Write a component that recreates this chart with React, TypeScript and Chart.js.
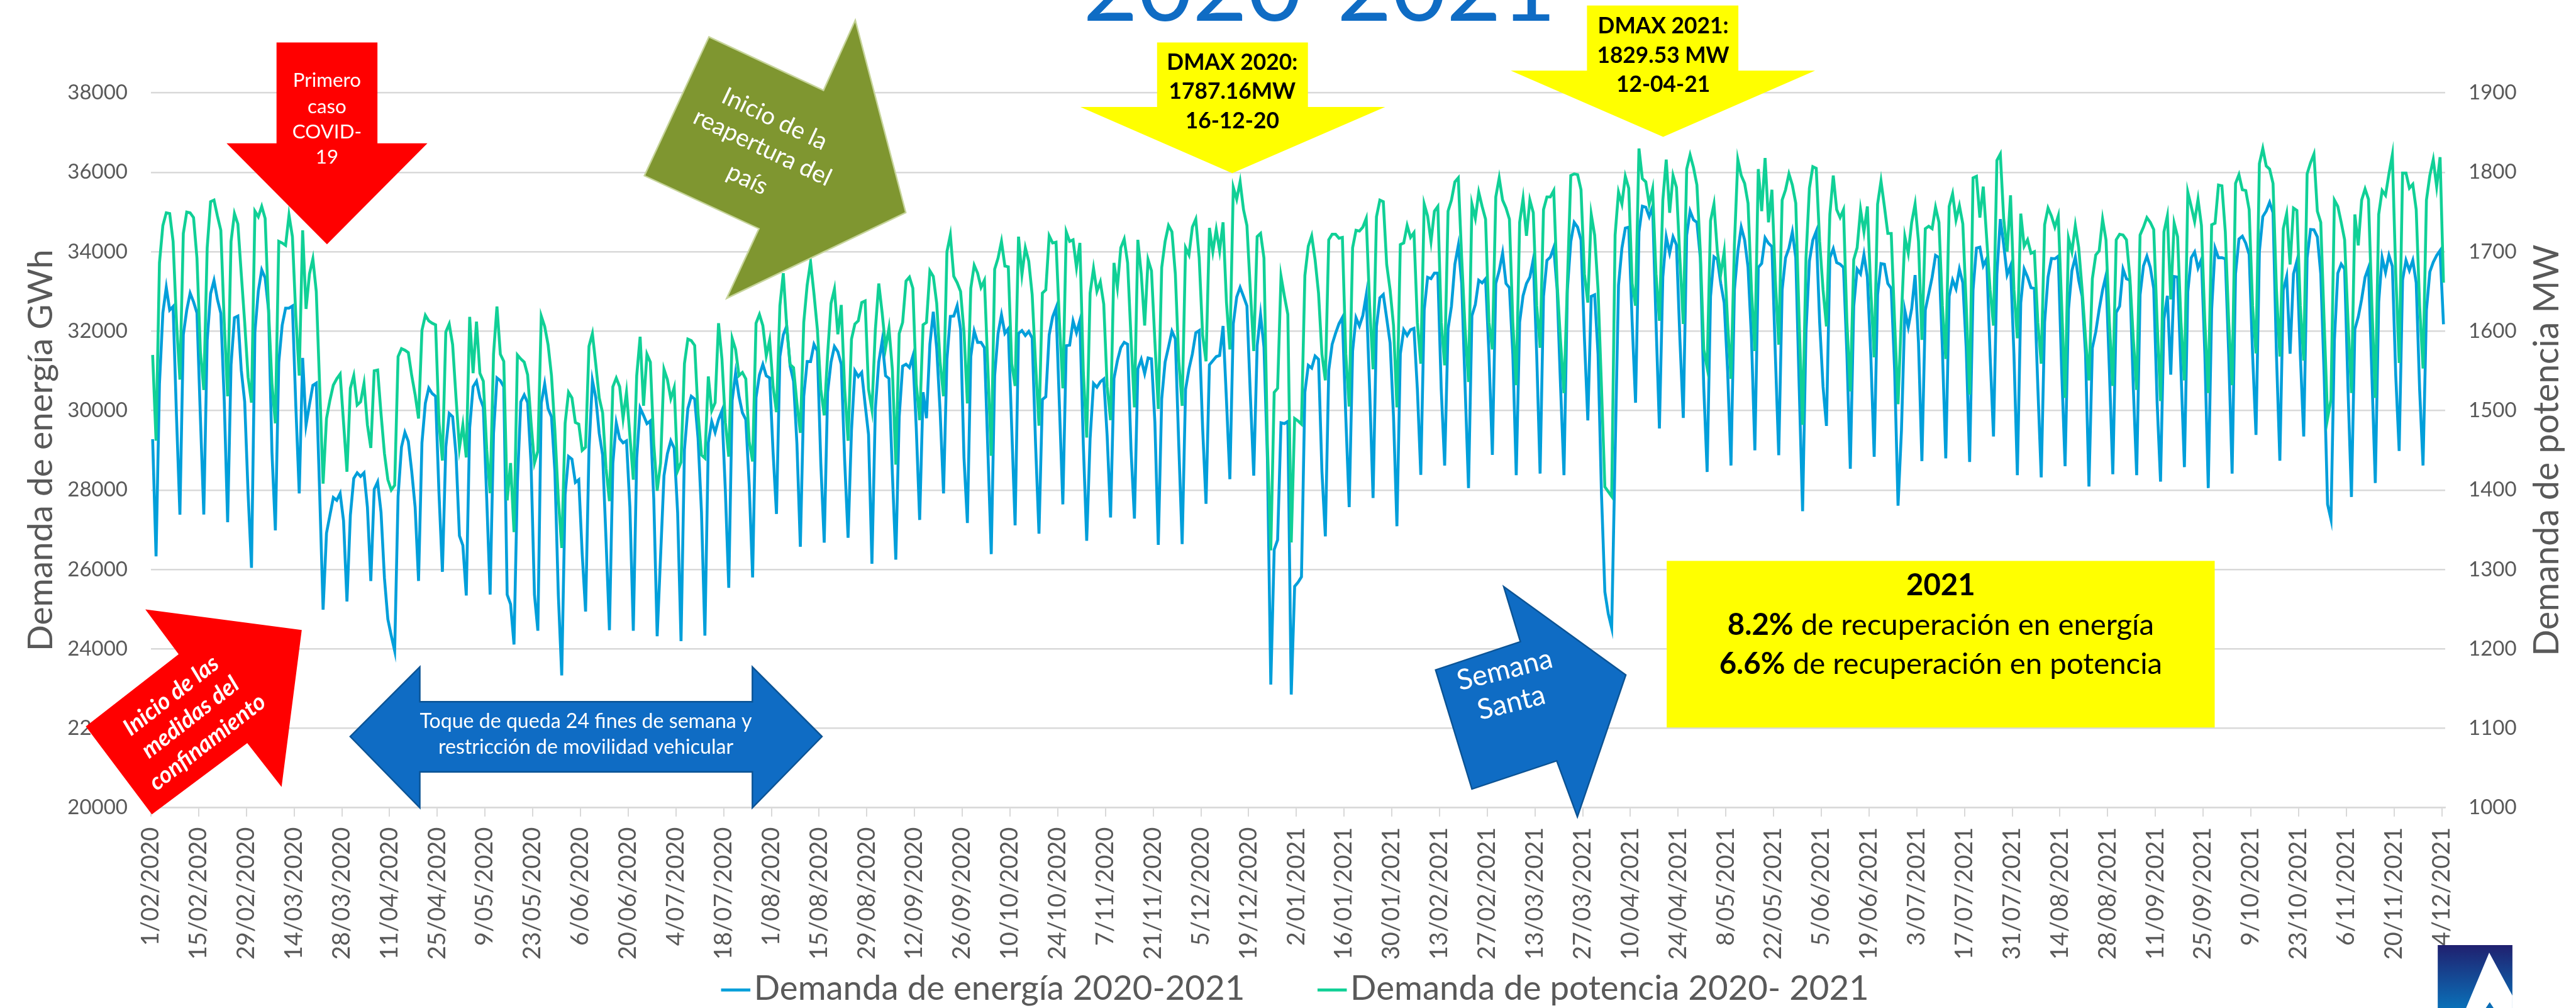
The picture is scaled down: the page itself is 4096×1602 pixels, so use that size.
import React, { useEffect, useRef } from "react";
import { Chart, registerables } from "chart.js";

Chart.register(...registerables);

const tickLabels = [
  "1/02/2020","15/02/2020","29/02/2020","14/03/2020","28/03/2020","11/04/2020","25/04/2020","9/05/2020","23/05/2020","6/06/2020",
  "20/06/2020","4/07/2020","18/07/2020","1/08/2020","15/08/2020","29/08/2020","12/09/2020","26/09/2020","10/10/2020","24/10/2020",
  "7/11/2020","21/11/2020","5/12/2020","19/12/2020","2/01/2021","16/01/2021","30/01/2021","13/02/2021","27/02/2021","13/03/2021",
  "27/03/2021","10/04/2021","24/04/2021","8/05/2021","22/05/2021","5/06/2021","19/06/2021","3/07/2021","17/07/2021","31/07/2021",
  "14/08/2021","28/08/2021","11/09/2021","25/09/2021","9/10/2021","23/10/2021","6/11/2021","20/11/2021","4/12/2021",
];

const energia = [
  29279,26330,30670,32460,33100,32530,32620,
  29850,27378,31910,32530,32957,32737,32460,
  29850,27385,31770,32944,33275,32800,32448,
  30257,27190,31150,32338,32380,31015,30222,
  27915,26040,31980,33012,33543,33343,32530,
  28950,26985,31220,32150,32580,32580,32634,
  30120,27915,31325,29637,30150,30635,30690,
  27915,24987,26916,27364,27811,27742,27915,
  27226,25193,27364,28294,28432,28342,28432,
  27570,25710,28018,28204,27433,25779,24746,
  24332,23950,27846,29086,29451,29224,28466,
  27570,25710,29189,30188,30567,30430,30360,
  27915,25940,29086,29926,29844,28880,26847,
  26606,25345,29568,30600,30740,30326,30085,
  27777,25366,29430,30822,30753,30600,25366,
  25125,24110,28190,30222,30395,30200,28673,
  25366,24457,30188,30670,30050,29844,28466,
  25366,23330,27880,28845,28776,28190,28259,
  26400,24940,29017,30760,30326,29430,28880,
  26744,24470,28673,29692,29293,29189,29238,
  27570,24457,28810,30064,29878,29672,29740,
  27777,24319,26330,28363,28914,29238,29052,
  27433,24195,29017,30050,30360,30292,29293,
  27433,24332,29189,29727,29451,29775,29995,
  27983,25538,30257,30946,30360,29947,29775,
  28121,25800,30326,30898,31166,30877,30822,
  28950,27398,31359,31910,32130,31118,30739,
  29155,26571,30360,31235,31235,31669,31497,
  28673,26675,30464,31221,31614,31483,31166,
  28741,26799,29500,31001,30856,30960,30154,
  29396,26144,30050,31221,31759,30877,30808,
  28397,26247,29844,31118,31166,31084,31373,
  29568,27247,30464,29809,31669,32489,31566,
  29982,27915,31290,32372,32379,32641,32048,
  28810,27171,31359,32000,31718,31718,31580,
  29017,26386,30877,31945,32413,31945,32062,
  29568,27109,31945,32014,31890,31993,31828,
  29155,26902,30278,30347,31910,32358,32586,
  30119,27639,31635,31649,32255,31959,32269,
  29155,26723,29293,30684,30588,30725,30794,
  29361,27309,30808,31256,31587,31718,31669,
  29017,27281,31049,31290,30932,31325,31304,
  29706,26620,30292,31221,31600,32000,31807,
  29155,26640,30533,31049,31428,31959,32014,
  29568,27653,31153,31256,31359,31387,32131,
  30257,28273,32186,32861,33102,32875,32634,
  30395,28363,31635,32420,31600,28810,23100,
  26500,26744,29692,29672,29727,22850,25573,
  25676,25813,30464,31139,31070,31373,31290,
  28466,26833,31015,31669,31945,32186,32344,
  29844,27570,31497,32337,32131,32393,32909,
  30533,27798,32117,32840,32923,32324,31704,
  29844,27088,31428,32034,31890,32034,32069,
  30533,28383,32530,33357,33323,33460,33460,
  30533,28617,32060,32630,33685,34156,33199,
  30604,28050,32388,32672,33280,33215,33320,
  31415,28884,33199,33523,33969,33199,33094,
  31415,28373,32226,32891,33199,33361,33807,
  31415,28414,32875,33783,33864,34107,33037,
  30604,28373,33037,34253,34740,34618,34294,
  31820,29752,32875,32915,31415,27915,25435,
  24884,24525,28900,33158,34090,34594,34618,
  32226,30198,34497,35145,35121,34886,35145,
  32226,29549,33361,34375,33969,34375,34172,
  31820,29817,34415,35024,34805,34740,33847,
  30604,28455,32875,33872,33807,33199,32713,
  31009,28617,33037,34010,34618,34294,33604,
  31820,28998,33604,33702,34350,34213,34132,
  31415,28876,33037,33848,34091,34497,33848,
  30604,27467,31983,33767,34294,34513,32226,
  30604,29614,33848,34075,33726,33686,33604,
  31415,28536,32631,33564,33442,33929,33361,
  31415,28836,32915,33702,33686,33199,33077,
  31009,27605,29500,32517,32103,32565,33412,
  31700,28728,32530,32944,33357,33908,33853,
  31566,28797,32875,33288,33068,33564,33219,
  31566,28707,33037,34091,34115,33645,33823,
  31415,29347,33442,34821,34172,33418,33645,
  31415,28373,32712,33564,33361,33094,33077,
  30604,28317,32226,33361,33831,33823,33888,
  31009,28601,32550,33523,33864,33280,32875,
  31415,28090,31577,31983,32550,33037,33402,
  31009,28398,32469,32631,33564,33320,33280,
  30604,28373,32915,33645,33888,33604,33077,
  30198,28211,32307,32891,30904,33377,33361,
  31009,28576,32996,33848,33994,33588,33807,
  31415,28049,32550,34091,33848,33848,33823,
  31415,28414,33442,34318,34391,34213,33929,
  31415,29387,34010,34886,35024,35243,34983,
  31415,28738,33037,33377,31431,33442,33767,
  31415,29347,33848,34561,34553,34375,33442,
  30877,27640,27260,31773,33460,33688,33564,
  30533,27825,32048,32358,32806,33357,33598,
  30877,28176,32737,33853,33481,33908,33633,
  30877,28983,33288,33784,33530,33784,33219,
  30533,28617,32530,33495,33736,33908,34030,
  32172,
];

const potencia = [
  1570,1462,1686,1733,1749,1748,1713,
  1611,1539,1723,1750,1749,1743,1692,
  1575,1526,1705,1763,1765,1745,1727,
  1611,1518,1713,1748,1735,1672,1611,
  1542,1510,1751,1744,1757,1742,1627,
  1534,1484,1713,1711,1708,1746,1719,
  1619,1544,1727,1628,1672,1691,1650,
  1530,1408,1490,1513,1532,1540,1546,
  1485,1423,1528,1544,1507,1511,1534,
  1482,1453,1550,1551,1496,1446,1413,
  1400,1406,1568,1578,1576,1573,1544,
  1520,1490,1601,1620,1613,1610,1608,
  1485,1437,1599,1609,1583,1516,1453,
  1482,1441,1618,1547,1612,1547,1537,
  1451,1396,1571,1631,1571,1562,1387,
  1434,1347,1570,1565,1561,1545,1485,
  1434,1449,1619,1606,1583,1544,1475,
  1389,1327,1484,1523,1516,1485,1483,
  1450,1454,1581,1597,1558,1516,1497,
  1427,1386,1530,1541,1530,1490,1523,
  1468,1413,1544,1593,1506,1571,1561,
  1458,1399,1434,1552,1539,1515,1529,
  1424,1435,1559,1590,1588,1582,1496,
  1444,1440,1543,1500,1510,1610,1565,
  1485,1442,1591,1577,1544,1548,1540,
  1461,1436,1610,1621,1607,1569,1589,
  1530,1498,1632,1673,1606,1558,1554,
  1509,1472,1611,1658,1687,1647,1602,
  1527,1494,1571,1635,1653,1596,1633,
  1527,1462,1590,1609,1613,1636,1638,
  1527,1501,1602,1660,1623,1579,1604,
  1551,1432,1597,1611,1663,1668,1654,
  1534,1488,1608,1611,1676,1669,1635,
  1561,1518,1700,1721,1669,1661,1650,
  1599,1509,1654,1683,1673,1655,1664,
  1554,1443,1678,1692,1713,1682,1681,
  1559,1531,1719,1671,1705,1688,1646,
  1559,1481,1648,1652,1720,1711,1712,
  1611,1528,1725,1713,1715,1680,1711,
  1550,1466,1648,1679,1650,1662,1634,
  1530,1488,1686,1655,1705,1716,1686,
  1591,1504,1715,1672,1607,1690,1676,
  1587,1502,1680,1713,1733,1725,1672,
  1563,1506,1705,1696,1731,1741,1692,
  1595,1562,1730,1700,1728,1701,1737,
  1636,1577,1781,1766,1788,1753,1733,
  1652,1575,1719,1723,1692,1458,1324,
  1523,1528,1669,1644,1621,1334,1490,
  1487,1483,1670,1707,1720,1690,1648,
  1571,1538,1715,1722,1722,1717,1718,
  1571,1505,1705,1727,1726,1731,1742,
  1632,1552,1744,1765,1763,1684,1652,
  1607,1504,1709,1711,1733,1718,1724,
  1611,1559,1760,1745,1713,1751,1757,
  1611,1557,1751,1765,1788,1793,1692,
  1603,1536,1760,1742,1775,1757,1741,
  1611,1577,1769,1793,1765,1755,1741,
  1611,1532,1737,1767,1720,1765,1749,
  1632,1579,1753,1769,1769,1777,1660,
  1587,1522,1660,1796,1798,1797,1778,
  1672,1636,1747,1721,1652,1530,1404,
  1398,1392,1721,1775,1760,1795,1780,
  1660,1632,1830,1792,1788,1760,1779,
  1672,1613,1765,1816,1749,1796,1781,
  1692,1609,1804,1822,1806,1784,1700,
  1577,1554,1739,1760,1700,1672,1700,
  1611,1540,1709,1816,1796,1786,1761,
  1652,1575,1804,1751,1818,1737,1778,
  1665,1583,1765,1778,1798,1784,1761,
  1611,1482,1692,1780,1807,1805,1713,
  1652,1606,1747,1796,1753,1743,1753,
  1611,1524,1690,1705,1753,1725,1757,
  1652,1567,1760,1789,1757,1723,1723,
  1611,1508,1620,1719,1698,1737,1760,
  1713,1589,1729,1732,1729,1756,1737,
  1632,1565,1757,1773,1740,1758,1735,
  1632,1520,1793,1795,1743,1782,1717,
  1652,1607,1815,1823,1741,1700,1771,
  1652,1591,1748,1707,1715,1698,1700,
  1611,1559,1734,1755,1745,1731,1745,
  1632,1516,1717,1700,1733,1705,1652,
  1591,1538,1666,1696,1701,1741,1715,
  1611,1531,1715,1722,1721,1715,1668,
  1591,1526,1721,1731,1743,1737,1728,
  1611,1512,1725,1745,1640,1736,1719,
  1611,1538,1775,1757,1738,1766,1733,
  1611,1522,1734,1736,1784,1783,1725,
  1611,1532,1786,1797,1778,1777,1753,
  1632,1572,1811,1830,1808,1804,1786,
  1652,1568,1729,1748,1684,1755,1752,
  1632,1563,1798,1812,1823,1751,1737,
  1611,1490,1514,1765,1757,1737,1715,
  1611,1522,1747,1708,1765,1779,1766,
  1632,1516,1747,1777,1771,1798,1822,
  1672,1560,1799,1799,1780,1785,1753,
  1632,1553,1765,1796,1816,1782,1819,
  1661,
];

const W = 4096;
const H = 1602;
const S = W / 5105;
const FONT = "Lato, Carlito, Calibri, sans-serif";
const GREY = "#595959";
const GRID = "#D9D9D9";
const BLUE = "#009FDA";
const GREEN = "#10D096";
const ROYAL = "#0F6CC4";

type Ctx = CanvasRenderingContext2D;

function poly(ctx: Ctx, pts: number[][], fill: string | CanvasGradient, stroke?: string, lw = 3) {
  ctx.beginPath();
  pts.forEach((p, i) => (i ? ctx.lineTo(p[0], p[1]) : ctx.moveTo(p[0], p[1])));
  ctx.closePath();
  ctx.fillStyle = fill;
  ctx.fill();
  if (stroke) {
    ctx.strokeStyle = stroke;
    ctx.lineWidth = lw;
    ctx.stroke();
  }
}

function text(ctx: Ctx, str: string, x: number, y: number, font: string, color: string, angle = 0) {
  ctx.save();
  ctx.translate(x, y);
  ctx.rotate((angle * Math.PI) / 180);
  ctx.font = font;
  ctx.fillStyle = color;
  ctx.textAlign = "center";
  ctx.textBaseline = "middle";
  ctx.fillText(str, 0, 0);
  ctx.restore();
}

function boldLead(ctx: Ctx, lead: string, rest: string, cx: number, y: number, size: number) {
  ctx.textBaseline = "middle";
  ctx.textAlign = "left";
  ctx.fillStyle = "#000";
  ctx.font = `bold ${size}px ${FONT}`;
  const a = ctx.measureText(lead).width;
  ctx.font = `${size}px ${FONT}`;
  const b = ctx.measureText(rest).width;
  const x0 = cx - (a + b) / 2;
  ctx.font = `bold ${size}px ${FONT}`;
  ctx.fillText(lead, x0, y);
  ctx.font = `${size}px ${FONT}`;
  ctx.fillText(rest, x0 + a, y);
}

const overlay = {
  id: "overlay",
  afterDraw(chart: any) {
    const ctx: Ctx = chart.ctx;
    ctx.save();
    ctx.scale(S, S);

    // Title, cropped by the top of the picture as in the reference
    ctx.font = `187px ${FONT}`;
    ctx.fillStyle = ROYAL;
    ctx.textAlign = "center";
    ctx.textBaseline = "alphabetic";
    ctx.fillText("2020-2021", 2615, 41);

    // Right axis title
    text(ctx, "Demanda de potencia MW", 5048, 892, `69px ${FONT}`, GREY, -90);

    // Legend
    const items = chart.data.datasets;
    const legendX = [1429, 2611];
    items.forEach((d: any, i: number) => {
      ctx.strokeStyle = d.borderColor;
      ctx.lineWidth = 6;
      ctx.beginPath();
      ctx.moveTo(legendX[i], 1961);
      ctx.lineTo(legendX[i] + 58, 1961);
      ctx.stroke();
      ctx.font = `68px ${FONT}`;
      ctx.fillStyle = GREY;
      ctx.textAlign = "left";
      ctx.textBaseline = "middle";
      ctx.fillText(d.label, legendX[i] + 65, 1958);
    });

    // Red arrow: first case
    poly(ctx, [[548,84],[748,84],[748,284],[847,284],[648,484],[449,284],[548,284]], "#FF0000");
    const r = `39px ${FONT}`;
    text(ctx, "Primero", 648, 159, r, "#fff");
    text(ctx, "caso", 648, 212, r, "#fff");
    text(ctx, "COVID-", 648, 262, r, "#fff");
    text(ctx, "19", 648, 312, r, "#fff");

    // Red diagonal arrow: confinement
    poly(ctx, [[288,1207],[598,1248],[558,1559],[490,1472],[301,1613],[170,1439],[354,1296]], "#FF0000");
    const ri = `italic bold 46px ${FONT}`;
    text(ctx, "Inicio de las", 339, 1378, ri, "#fff", -38);
    text(ctx, "medidas del", 377, 1421, ri, "#fff", -38);
    text(ctx, "confinamiento", 411, 1470, ri, "#fff", -38);

    // Double arrow
    poly(ctx, [[694,1459],[832,1321],[832,1390],[1491,1390],[1491,1321],[1629,1459],[1491,1600],[1491,1529],[832,1529],[832,1600]], ROYAL, "#0B5394", 3);
    text(ctx, "Toque de queda 24 fines de semana y", 1161, 1429, `40px ${FONT}`, "#fff");
    text(ctx, "restricción de movilidad vehicular", 1161, 1480, `40px ${FONT}`, "#fff");

    // Olive arrow
    poly(ctx, [[1405,73],[1632,179],[1695,40],[1795,421],[1440,591],[1504,453],[1277,348]], "#7F9630", "#C6D49A", 3);
    const g = `48px ${FONT}`;
    text(ctx, "Inicio de la", 1535, 236, g, "#fff", 25.4);
    text(ctx, "reapertura del", 1511, 292, g, "#fff", 25.4);
    text(ctx, "país", 1481, 355, g, "#fff", 25.4);

    // Yellow arrows
    poly(ctx, [[2293,84],[2592,84],[2592,212],[2745,212],[2442,343],[2141,212],[2293,212]], "#FFFF00");
    const y = `bold 44px ${FONT}`;
    text(ctx, "DMAX 2020:", 2442, 124, y, "#000");
    text(ctx, "1787.16MW", 2442, 182, y, "#000");
    text(ctx, "16-12-20", 2442, 240, y, "#000");

    poly(ctx, [[3145,11],[3445,11],[3445,140],[3597,140],[3296,271],[2994,140],[3145,140]], "#FFFF00");
    text(ctx, "DMAX 2021:", 3296, 52, y, "#000");
    text(ctx, "1829.53 MW", 3296, 110, y, "#000");
    text(ctx, "12-04-21", 3296, 168, y, "#000");

    // Semana Santa arrow
    poly(ctx, [[2980,1162],[3013,1271],[2845,1327],[2917,1563],[3085,1507],[3126,1618],[3222,1337]], ROYAL, "#0B5394", 3);
    text(ctx, "Semana", 2982, 1327, `56px ${FONT}`, "#fff", -14);
    text(ctx, "Santa", 2995, 1392, `56px ${FONT}`, "#fff", -14);

    // Yellow box
    ctx.fillStyle = "#FFFF00";
    ctx.fillRect(3303, 1111, 4389 - 3303, 1441 - 1111);
    text(ctx, "2021", 3846, 1160, `bold 59px ${FONT}`, "#000");
    boldLead(ctx, "8.2%", " de recuperación en energía", 3846, 1238, 59);
    boldLead(ctx, "6.6%", " de recuperación en potencia", 3846, 1316, 59);

    // Logo
    const lg = ctx.createLinearGradient(0, 1872, 0, 1997);
    lg.addColorStop(0, "#20206F");
    lg.addColorStop(1, "#0A70B8");
    ctx.fillStyle = lg;
    ctx.fillRect(4831, 1872, 148, 125);
    poly(ctx, [[4933,1887],[4979,1972],[4979,1997],[4942,1997],[4934,1985],[4926,1997],[4887,1997]], "#fff");

    ctx.restore();
  },
};

export default function App() {
  const ref = useRef<HTMLCanvasElement | null>(null);
  useEffect(() => {
    document.body.style.margin = "0";
    const canvas = ref.current;
    if (!canvas) return;
    const chart = new Chart(canvas, {
      type: "line",
      data: {
        datasets: [
          {
            label: "Demanda de energía 2020-2021",
            data: energia.map((y, x) => ({ x, y })),
            borderColor: BLUE,
            backgroundColor: BLUE,
            borderWidth: 4.6,
            pointRadius: 0,
            tension: 0,
            yAxisID: "y",
            order: 2,
          },
          {
            label: "Demanda de potencia 2020- 2021",
            data: potencia.map((y, x) => ({ x, y })),
            borderColor: GREEN,
            backgroundColor: GREEN,
            borderWidth: 4.6,
            pointRadius: 0,
            tension: 0,
            yAxisID: "y1",
            order: 1,
          },
        ],
      },
      options: {
        responsive: false,
        animation: false,
        devicePixelRatio: 1,
        layout: { autoPadding: false, padding: { top: 147.6, left: 0, right: 0, bottom: 0 } },
        plugins: { legend: { display: false }, tooltip: { enabled: false }, title: { display: false } },
        scales: {
          x: {
            type: "linear",
            bounds: "data",
            min: -0.5,
            max: 672.5,
            afterBuildTicks: (s: any) => {
              s.ticks = tickLabels.map((_, k) => ({ value: -0.5 + 14 * k }));
            },
            afterFit: (s: any) => {
              s.height = H - 1283.7;
            },
            border: { color: GRID, width: 2.4 },
            grid: { drawOnChartArea: false, drawTicks: true, tickLength: 14, color: GRID, lineWidth: 2 },
            ticks: {
              autoSkip: false,
              minRotation: 90,
              maxRotation: 90,
              padding: 17,
              color: GREY,
              font: { family: FONT, size: 38 },
              callback: (_: any, i: number) => tickLabels[i],
            },
          },
          y: {
            position: "left",
            min: 20000,
            max: 38000,
            afterFit: (s: any) => {
              s.width = 240;
            },
            border: { display: false },
            grid: { color: GRID, lineWidth: 2.4, drawTicks: false },
            ticks: {
              stepSize: 2000,
              padding: 37,
              color: GREY,
              font: { family: FONT, size: 33 },
              callback: (v: any) => String(v),
            },
            title: {
              display: true,
              text: "Demanda de energía GWh",
              color: GREY,
              font: { family: FONT, size: 55, weight: "normal" },
              padding: { top: 32, bottom: 0 },
            },
          },
          y1: {
            position: "right",
            min: 1000,
            max: 1900,
            afterFit: (s: any) => {
              s.width = W - 3888;
            },
            border: { display: false },
            grid: { drawOnChartArea: false, drawTicks: false },
            ticks: {
              stepSize: 100,
              padding: 37,
              color: GREY,
              font: { family: FONT, size: 33 },
              callback: (v: any) => String(v),
            },
          },
        },
      },
      plugins: [overlay],
    } as any);
    return () => chart.destroy();
  }, []);
  return <canvas ref={ref} width={W} height={H} style={{ display: "block", width: W, height: H }} />;
}
